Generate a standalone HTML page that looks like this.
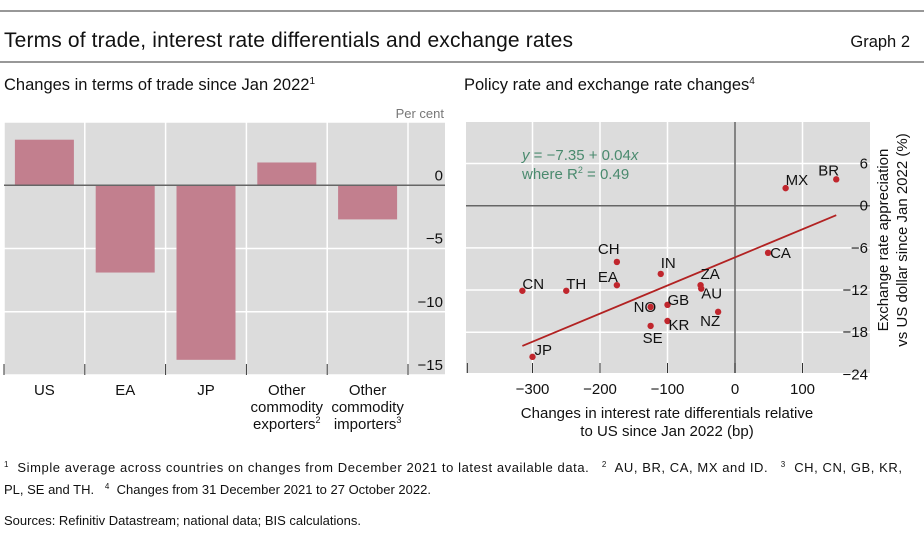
<!DOCTYPE html>
<html><head><meta charset="utf-8"><style>
body{margin:0;background:#fff;font-family:"Liberation Sans",sans-serif;}
svg text{font-family:"Liberation Sans",sans-serif;}
.fn{white-space:pre;}
</style></head><body>
<svg width="924" height="536" viewBox="0 0 924 536" xmlns="http://www.w3.org/2000/svg">
<line x1="0" y1="11" x2="924" y2="11" stroke="#777" stroke-width="1.5"/>
<text x="4" y="47" font-size="21" fill="#111" textLength="569">Terms of trade, interest rate differentials and exchange rates</text>
<text x="910" y="47" font-size="16.5" fill="#111" text-anchor="end">Graph 2</text>
<line x1="0" y1="62" x2="924" y2="62" stroke="#777" stroke-width="1.5"/>
<text x="4" y="90" font-size="16.5" fill="#111">Changes in terms of trade since Jan 2022<tspan font-size="10" dy="-6">1</tspan></text>
<text x="464" y="90" font-size="16.5" fill="#111">Policy rate and exchange rate changes<tspan font-size="10" dy="-6">4</tspan></text>
<text x="444" y="118" font-size="13" fill="#777" text-anchor="end">Per cent</text>
<g id="left"></g>
<g id="right"></g>
<text class="fn" x="4" y="472" font-size="13" fill="#111" textLength="898"><tspan font-size="8" dy="-5">1</tspan><tspan dy="5">  Simple average across countries on changes from December 2021 to latest available data.   </tspan><tspan font-size="8" dy="-5">2</tspan><tspan dy="5">  AU, BR, CA, MX and ID.   </tspan><tspan font-size="8" dy="-5">3</tspan><tspan dy="5">  CH, CN, GB, KR,</tspan></text>
<text class="fn" x="4" y="494" font-size="13" fill="#111">PL, SE and TH.   <tspan font-size="8" dy="-5">4</tspan><tspan dy="5">  Changes from 31 December 2021 to 27 October 2022.</tspan></text>
<text x="4" y="525" font-size="13" fill="#111">Sources: Refinitiv Datastream; national data; BIS calculations.</text>
</svg>
<script>
const NS="http://www.w3.org/2000/svg";
const barCategories=["US","EA","JP","Other commodity exporters","Other commodity importers"];
const barValues=[3.6,-6.9,-13.8,1.8,-2.7];
const barTicks=[0,-5,-10,-15];
const scatterNames=["BR","MX","CA","CH","IN","EA","CN","TH","ZA","AU","NO","GB","NZ","KR","SE","JP"];
const scatterX=[150,75,49,-175,-110,-175,-315,-250,-51,-50,-125,-100,-25,-100,-125,-300];
const scatterY=[3.75,2.5,-6.7,-8,-9.7,-11.3,-12.1,-12.1,-11.3,-11.8,-14.4,-14.1,-15.1,-16.4,-17.1,-21.5];
const xTicks=[-300,-200,-100,0,100];
const yTicks=[6,0,-6,-12,-18,-24];
const regIntercept=-7.35, regSlope=0.04, regXRange=[-315,150];
function el(t,a,p,txt){const e=document.createElementNS(NS,t);for(const k in a)e.setAttribute(k,a[k]);if(txt!==undefined)e.textContent=txt;p.appendChild(e);return e;}
// LEFT
const L=document.getElementById('left');
const lx0=4,lx1=445,ly0=122,ly1=375,ymin=-15,ymax=5;
const ly=v=>ly1-(v-ymin)/(ymax-ymin)*(ly1-ly0);
const bw=(408-4)/barCategories.length;
const bx=i=>lx0+i*bw;
let r=el('rect',{x:lx0,y:ly0,width:lx1-lx0,height:ly1-ly0,fill:'#dcdcdc'},L);

[5,0,-5,-10,-15].forEach(v=>{const g=el('line',{x1:lx0,x2:lx1,y1:ly(v),y2:ly(v),stroke:'#fff','stroke-width':1.5},L);});
for(let i=0;i<=barCategories.length;i++){const g=el('line',{x1:bx(i),x2:bx(i),y1:ly0,y2:ly1,stroke:'#fff','stroke-width':1.5},L);
const t=el('line',{x1:bx(i),x2:bx(i),y1:ly1-11,y2:ly1,stroke:'#333','stroke-width':1},L);}
barValues.forEach((v,i)=>{const y=Math.min(ly(v),ly(0));const b=el('rect',{x:bx(i)+bw/2-29.5,y:y,width:59,height:Math.abs(ly(v)-ly(0)),fill:'#c27f8e'},L);
});
let z=el('line',{x1:lx0,x2:lx1,y1:ly(0),y2:ly(0),stroke:'#666','stroke-width':1.5},L);
barTicks.forEach(v=>{const t=el('text',{x:443,y:ly(v)-5,'font-size':15,'text-anchor':'end',fill:'#111'},L,v<0?'\u2212'+(-v):''+v);});
barCategories.forEach((c,i)=>{const cx=bx(i)+bw/2;let lines=c.startsWith('Other')?['Other','commodity',c.split(' ')[2]]:[c];
const t=el('text',{x:cx,y:395,'font-size':15,'text-anchor':'middle',fill:'#111'},L);
lines.forEach((ln,j)=>{const s=el('tspan',{x:cx,y:395+j*17},t,ln);if(j==2){el('tspan',{'font-size':9,dy:-6},t,i==3?'2':'3');}});});
// RIGHT
const R=document.getElementById('right');
const rx0=466,rx1=870,ry0=122,ry1=373;
const sx=v=>735+v*0.675;
const sy=v=>205.7-v*7.03;
r=el('rect',{x:rx0,y:ry0,width:rx1-rx0,height:ry1-ry0,fill:'#dcdcdc'},R);
[-300,-200,-100,100].forEach(v=>{const g=el('line',{x1:sx(v),x2:sx(v),y1:ry0,y2:ry1,stroke:'#fff','stroke-width':1.5},R);});
[6,-6,-12,-18].forEach(v=>{const g=el('line',{x1:rx0,x2:rx1,y1:sy(v),y2:sy(v),stroke:'#fff','stroke-width':1.5},R);});
let a=el('line',{x1:sx(0),x2:sx(0),y1:ry0,y2:ry1,stroke:'#666','stroke-width':1.5},R);
a=el('line',{x1:rx0,x2:rx1,y1:sy(0),y2:sy(0),stroke:'#666','stroke-width':1.5},R);
xTicks.forEach(v=>{const t=el('line',{x1:sx(v),x2:sx(v),y1:ry1-10,y2:ry1,stroke:'#333'},R);
const l=el('text',{x:sx(v),y:ry1+21,'font-size':15,'text-anchor':'middle',fill:'#111'},R,v<0?'\u2212'+(-v):''+v);});
[sx(-398)].forEach(x=>{const t=el('line',{x1:x+1,x2:x+1,y1:ry1-10,y2:ry1,stroke:'#333'},R);});
yTicks.forEach(v=>{const l=el('text',{x:868,y:sy(v)+5,'font-size':15,'text-anchor':'end',fill:'#111'},R,v<0?'\u2212'+(-v):''+v);});
const reg=el('line',{x1:sx(regXRange[0]),y1:sy(regIntercept+regSlope*regXRange[0]),x2:sx(regXRange[1]),y2:sy(regIntercept+regSlope*regXRange[1]),stroke:'#b22222','stroke-width':1.8},R);

const lblOff={BR:[-18,-4,'start'],MX:[0,-3,'start'],CA:[2,5,'start'],CH:[-19,-8,'start'],IN:[0,-6,'start'],EA:[-19,-3,'start'],CN:[0,-2,'start'],TH:[0,-2,'start'],ZA:[0,-6,'start'],AU:[0,10,'start'],NO:[-17,5,'start'],GB:[0,0,'start'],NZ:[-18,14,'start'],KR:[1,9,'start'],SE:[-8,17,'start'],JP:[2,-2,'start']};
scatterNames.forEach((n,i)=>{const cx=sx(scatterX[i]),cy=sy(scatterY[i]);
const c=el('circle',{cx:cx,cy:cy,r:3.2,fill:'#c0262d'},R);
const o=lblOff[n];const t=el('text',{x:cx+o[0],y:cy+o[1],'font-size':15,fill:'#111'},R,n);});
let e=el('text',{x:522,y:160,'font-size':15,fill:'#4a8a6e'},R);
el('tspan',{'font-style':'italic'},e,'y');el('tspan',{},e,' = \u22127.35 + 0.04');el('tspan',{'font-style':'italic'},e,'x');
e=el('text',{x:522,y:179,'font-size':15,fill:'#4a8a6e'},R);
el('tspan',{},e,'where R');el('tspan',{'font-size':9,dy:-6},e,'2');el('tspan',{dy:6},e,' = 0.49');
e=el('text',{x:667,y:418,'font-size':15,'text-anchor':'middle',fill:'#111'},R,'Changes in interest rate differentials relative');
e=el('text',{x:667,y:436,'font-size':15,'text-anchor':'middle',fill:'#111'},R,'to US since Jan 2022 (bp)');
e=el('text',{x:0,y:0,'font-size':15,'text-anchor':'middle',fill:'#111',transform:'translate(888,240) rotate(-90)'},R,'Exchange rate appreciation');
e=el('text',{x:0,y:0,'font-size':15,'text-anchor':'middle',fill:'#111',transform:'translate(907,240) rotate(-90)'},R,'vs US dollar since Jan 2022 (%)');
</script>
</body></html>
